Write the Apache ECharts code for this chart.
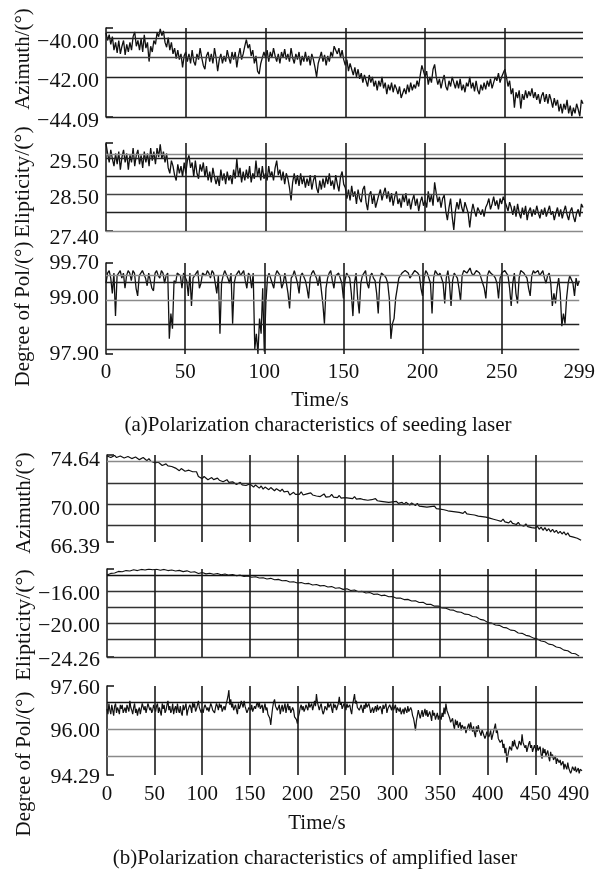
<!DOCTYPE html>
<html>
<head>
<meta charset="utf-8">
<script src="https://cdn.jsdelivr.net/npm/echarts@6.0.0/dist/echarts.min.js"></script>
<style>
  html, body { margin: 0; padding: 0; background: #fff; }
  #chart { width: 598px; height: 871px; }
</style>
</head>
<body>
<div id="chart"></div>
<script>
const FONT = '"Liberation Serif", "Times New Roman", serif';

// sample spacing in seconds
const stepSeed = 1;
const stepAmpAz = 2;
const stepAmpEll = 4;
const stepAmpDeg = 1;

// (a) seeding laser, one value per second, 0..299 s
const seedAzimuth = [
  -39.7, -40.1, -39.8, -40.3, -39.9, -40.6, -40.2, -40.75, -40.1, -40.8, -40.4, -40.1, -40.85, -40.3, -40.7, -40.2, -40.6, -39.9, -39.65, -40.4, -40.1, -40.6, -40.0, -40.7, -39.8,
  -40.5, -40.2, -41.2, -40.4, -40.7, -40.1, -40.3, -39.7, -39.9, -39.5, -39.85, -39.6, -40.2, -40.45, -39.95, -40.6, -40.2, -40.8, -40.5, -41.05, -40.6, -41.1, -40.8, -41.5, -40.9,
  -40.7, -41.2, -40.8, -41.3, -40.6, -41.2, -41.4, -40.8, -41.1, -40.5, -41.0, -41.4, -41.6, -40.9, -40.7, -41.2, -40.8, -41.3, -40.5, -41.0, -41.7, -41.1, -40.8, -41.3, -40.9,
  -41.2, -40.6, -41.0, -41.3, -40.7, -41.1, -40.7, -41.5, -40.9, -40.5, -41.1, -40.8, -40.4, -40.05, -40.5, -40.3, -40.9, -40.6, -41.3, -40.9, -41.7, -41.85, -41.3, -41.0, -40.7,
  -41.0, -40.6, -41.2, -40.7, -41.0, -40.5, -40.9, -41.2, -40.8, -41.3, -40.7, -41.0, -40.55, -41.1, -40.8, -41.2, -40.5, -41.0, -41.3, -40.8, -41.1, -40.7, -41.4, -40.9, -41.2,
  -40.7, -41.2, -40.9, -41.4, -40.8, -41.1, -41.5, -42.0, -41.3, -41.0, -40.7, -41.2, -40.85, -41.4, -40.9, -41.2, -40.7, -40.95, -40.4, -40.3, -40.8, -40.5, -41.0, -40.6, -41.1,
  -41.4, -41.1, -41.7, -41.3, -41.6, -41.9, -41.5, -42.0, -41.6, -42.1, -41.8, -42.3, -41.9, -42.2, -42.5, -41.9, -42.3, -42.0, -42.5, -42.2, -42.7, -42.2, -42.5, -42.0, -42.6,
  -42.3, -42.9, -42.4, -42.7, -42.3, -42.8, -42.4, -42.6, -42.9, -42.5, -43.1, -43.2, -42.6, -42.9, -42.4, -42.8, -42.3, -42.7, -42.4, -42.6, -42.2, -42.5, -41.9, -41.4, -41.7,
  -42.0, -41.7, -42.4, -42.0, -42.3, -41.6, -41.35, -42.0, -42.4, -42.1, -42.6, -42.2, -41.9, -42.5, -42.7, -42.2, -42.5, -42.0, -42.3, -42.6, -42.2, -42.6, -42.1, -42.7, -42.4,
  -42.8, -42.3, -42.5, -42.0, -42.6, -42.3, -42.75, -42.2, -42.7, -42.9, -42.4, -42.7, -42.3, -42.65, -42.2, -42.5, -42.1, -42.6, -42.3, -42.0, -42.2, -41.8, -42.3, -42.0, -41.9,
  -41.6, -42.0, -42.5, -42.2, -42.9, -42.6, -43.6, -42.8, -43.1, -42.7, -43.65, -42.9, -43.2, -42.7, -43.1, -42.75, -43.0, -42.6, -43.1, -42.8, -43.2, -42.9, -43.4, -43.0, -42.8,
  -43.3, -42.9, -43.4, -42.9, -43.2, -43.6, -43.1, -43.5, -43.2, -43.8, -43.4, -43.9, -43.4, -43.7, -43.2, -43.9, -43.5, -44.05, -43.6, -43.9, -43.4, -43.7, -44.05, -43.2, -43.4
];
const seedEllipticity = [
  29.82, 29.55, 29.3, 29.65, 29.4, 29.2, 29.55, 29.25, 29.6, 29.1, 29.45, 29.65, 29.3, 29.55, 29.1, 29.5, 29.3, 29.7, 29.2, 29.5, 29.65, 29.25, 29.5, 29.15, 29.6,
  29.3, 29.55, 29.2, 29.7, 29.35, 29.6, 29.25, 29.7, 29.45, 29.8, 29.4, 29.6, 29.3, 29.55, 29.15, 29.0, 29.35, 29.2, 28.95, 28.8, 29.25, 29.0, 29.2, 28.9, 29.3,
  29.0, 29.35, 29.5, 29.15, 29.3, 28.9, 29.35, 29.0, 28.85, 29.25, 29.05, 29.3, 28.9, 29.2, 28.8, 29.05, 28.75, 29.15, 28.9, 28.7, 28.9, 28.65, 29.1, 28.8, 29.0,
  28.7, 29.05, 28.8, 28.95, 28.7, 29.1, 28.85, 29.4, 28.9, 29.15, 28.75, 29.05, 28.8, 29.1, 28.85, 29.2, 28.75, 29.0, 28.85, 29.35, 28.9, 29.15, 28.8, 29.2, 28.85,
  29.0, 28.8, 29.2, 28.9, 29.05, 28.8, 29.15, 29.35, 28.95, 29.1, 28.8, 29.05, 28.7, 29.0, 28.85, 28.6, 28.25, 28.75, 29.0, 28.7, 28.95, 28.65, 29.0, 28.7, 28.9,
  28.6, 28.85, 28.65, 28.95, 28.55, 28.8, 28.95, 28.6, 28.45, 28.8, 28.55, 28.85, 28.6, 28.9, 28.7, 29.0, 28.65, 28.8, 28.55, 28.95, 28.7, 28.5, 28.9, 29.05, 28.7,
  28.6, 28.3, 28.55, 28.25, 28.65, 28.35, 28.5, 28.15, 28.55, 28.3, 28.2, 28.55, 28.65, 28.2, 27.98, 28.4, 28.5, 28.15, 28.4, 28.05, 28.0, 28.4, 28.55, 28.25, 28.45,
  28.6, 28.3, 28.5, 28.2, 28.45, 28.1, 28.35, 28.5, 28.15, 28.3, 28.05, 28.4, 28.2, 28.45, 28.1, 28.3, 28.0, 28.25, 28.4, 28.1, 28.3, 27.95, 28.2, 28.35, 28.1,
  28.25, 28.05, 28.5, 28.2, 28.4, 28.1, 28.75, 28.45, 28.2, 28.35, 28.05, 28.3, 28.4, 27.95, 27.7, 28.05, 28.3, 27.8, 27.43, 27.95, 28.2, 28.0, 28.3, 28.05, 27.9,
  28.2, 28.25, 27.9, 27.5, 27.9, 28.15, 27.95, 27.8, 28.05, 28.1, 27.85, 28.0, 27.8, 28.05, 28.15, 28.3, 28.0, 28.15, 28.35, 28.1, 28.25, 28.0, 28.3, 28.15, 28.35,
  28.4, 28.1, 27.95, 28.2, 28.05, 27.85, 28.1, 27.8, 28.15, 27.9, 27.75, 28.05, 27.85, 28.1, 27.7, 27.95, 28.05, 27.8, 28.0, 27.85, 28.1, 27.9, 27.75, 28.0, 27.85,
  28.05, 27.8, 27.95, 28.1, 27.85, 27.95, 27.7, 27.9, 28.05, 27.8, 28.0, 27.75, 27.95, 28.1, 27.85, 27.7, 27.95, 28.05, 27.8, 27.65, 27.9, 28.0, 27.8, 28.15, 28.05
];
const seedDegree = [
  99.3, 99.5, 99.55, 99.4, 99.1, 99.5, 98.65, 99.45, 99.5, 99.55, 99.4, 99.5, 99.2, 99.45, 99.55, 99.5, 99.35, 99.55, 99.5, 99.2, 99.05, 99.45, 99.45, 99.55, 99.55,
  99.4, 99.25, 99.5, 99.5, 99.2, 99.15, 99.5, 99.55, 99.45, 99.4, 99.55, 99.5, 99.3, 99.45, 99.5, 98.2, 98.7, 98.4, 99.35, 99.3, 99.5, 99.5, 99.45, 99.2, 99.5,
  99.5, 99.35, 99.05, 99.5, 98.85, 99.4, 99.45, 99.5, 99.55, 99.2, 99.3, 99.5, 99.5, 99.45, 99.55, 99.5, 99.4, 99.55, 99.5, 99.3, 99.1, 99.45, 98.3, 99.3, 99.45,
  99.55, 99.55, 99.4, 99.3, 99.5, 98.5, 99.3, 99.45, 99.5, 99.55, 99.45, 99.5, 99.55, 99.35, 99.2, 99.5, 99.45, 99.2, 99.5, 98.0, 98.3, 97.9, 98.6, 98.3, 99.2,
  97.95, 98.9, 99.4, 99.5, 99.5, 99.3, 99.2, 99.45, 99.55, 99.5, 99.45, 99.2, 99.3, 99.5, 99.5, 99.1, 98.8, 99.4, 99.45, 99.55, 99.55, 99.3, 99.1, 99.45, 99.5,
  99.5, 99.35, 99.2, 99.0, 99.4, 99.5, 99.55, 99.55, 99.4, 99.25, 99.45, 99.45, 98.9, 98.5, 99.2, 99.4, 99.5, 99.55, 99.35, 99.2, 99.45, 99.45, 99.5, 99.5, 99.3,
  99.0, 99.35, 99.5, 99.45, 99.4, 99.1, 98.65, 99.3, 99.5, 99.0, 98.7, 99.3, 99.45, 99.5, 99.55, 99.3, 99.2, 99.45, 99.5, 99.4, 99.35, 99.1, 98.7, 99.35, 99.5,
  99.5, 99.45, 99.4, 99.3, 99.0, 98.2, 98.5, 98.6, 99.0, 99.2, 99.4, 99.45, 99.5, 99.5, 99.55, 99.55, 99.5, 99.4, 99.45, 99.5, 99.55, 99.55, 99.5, 99.45, 99.2,
  99.05, 99.4, 99.55, 99.5, 99.5, 99.3, 98.7, 99.4, 99.55, 99.5, 99.45, 99.5, 99.5, 99.3, 98.9, 99.4, 99.55, 99.3, 98.85, 99.35, 99.5, 99.45, 99.4, 99.2, 98.95,
  99.45, 99.55, 99.55, 99.5, 99.55, 99.6, 99.5, 99.45, 99.5, 99.55, 99.55, 99.5, 99.4, 99.3, 99.2, 99.0, 99.45, 99.55, 99.5, 99.5, 99.45, 99.4, 99.3, 99.0, 99.4,
  99.5, 99.5, 99.55, 99.5, 99.45, 99.2, 98.85, 99.3, 99.5, 99.1, 98.9, 99.4, 99.55, 99.55, 99.5, 99.45, 99.4, 99.2, 99.05, 99.45, 99.55, 99.5, 99.5, 99.55, 99.45,
  99.5, 99.55, 99.4, 99.3, 99.45, 99.5, 99.3, 98.85, 99.1, 98.9, 99.2, 99.4, 99.1, 98.45, 98.7, 98.5, 99.0, 99.3, 99.45, 99.45, 99.3, 99.05, 99.4, 99.25, 99.35
];

// (b) amplified laser
const ampAzimuth = [ // every 2 s, 0..498 s
  74.55, 74.65, 74.4, 74.55, 74.6, 74.4, 74.35, 74.55, 74.45, 74.35, 74.25, 74.5, 74.4, 74.3, 74.2, 74.45, 74.35, 74.2, 74.3, 74.4, 74.25, 74.1, 74.3, 74.05, 74.1,
  73.9, 73.75, 73.95, 73.85, 73.65, 73.5, 73.8, 73.6, 73.45, 73.55, 73.65, 73.4, 73.25, 73.15, 73.35, 73.4, 73.1, 73.0, 73.2, 73.35, 73.05, 72.9, 73.05, 72.6, 72.5,
  72.4, 72.6, 72.5, 72.3, 72.45, 72.5, 72.3, 72.2, 72.45, 72.25, 72.35, 72.1, 72.2, 72.3, 72.05, 71.9, 72.1, 72.15, 71.85, 71.95, 72.05, 71.8, 71.95, 71.75, 71.7,
  71.9, 71.75, 71.6, 71.8, 71.65, 71.5, 71.7, 71.4, 71.6, 71.45, 71.35, 71.55, 71.4, 71.25, 71.45, 71.3, 71.2, 71.4, 71.15, 71.05, 71.2, 70.85, 71.0, 71.1, 70.9,
  71.05, 70.9, 71.15, 70.85, 71.0, 70.95, 70.8, 71.05, 70.85, 70.95, 70.75, 70.9, 70.7, 70.85, 70.95, 70.65, 70.8, 70.7, 70.9, 70.65, 70.75, 70.6, 70.8, 70.55, 70.7,
  70.6, 70.75, 70.55, 70.65, 70.5, 70.7, 70.45, 70.6, 70.5, 70.65, 70.4, 70.55, 70.35, 70.5, 70.4, 70.3, 70.5, 70.3, 70.4, 70.25, 70.4, 70.2, 70.3, 70.15, 70.3,
  70.2, 70.1, 70.25, 70.05, 70.2, 70.15, 69.95, 70.15, 70.0, 69.9, 70.1, 69.95, 69.85, 70.05, 69.8, 69.95, 69.75, 69.9, 69.7, 69.85, 69.75, 69.6, 69.8, 69.55, 69.7,
  69.5, 69.65, 69.45, 69.6, 69.35, 69.5, 69.3, 69.45, 69.25, 69.4, 69.2, 69.35, 69.1, 69.3, 69.05, 69.2, 69.0, 69.15, 68.95, 69.1, 68.85, 69.0, 68.8, 68.95, 68.75,
  68.9, 68.65, 68.8, 68.55, 68.7, 68.45, 68.6, 68.35, 68.55, 68.3, 68.45, 68.2, 68.4, 68.15, 68.3, 68.05, 68.25, 68.0, 68.15, 67.9, 68.1, 67.85, 68.0, 67.75, 67.9,
  67.7, 67.9, 67.6, 67.8, 67.5, 67.75, 67.45, 67.65, 67.35, 67.6, 67.3, 67.5, 67.2, 67.4, 67.15, 67.35, 67.05, 67.25, 66.95, 67.1, 66.85, 67.0, 66.75, 66.85, 66.55
];
const ampEllipticity = [ // every 4 s, 0..496 s
  -14.0, -13.8, -13.75, -13.55, -13.6, -13.45, -13.5, -13.35, -13.45, -13.3, -13.38, -13.27, -13.35, -13.28, -13.4, -13.3, -13.45, -13.38, -13.5, -13.42, -13.58, -13.48, -13.66, -13.6, -13.82,
  -13.7, -13.86, -13.78, -13.9, -13.82, -13.98, -13.88, -14.02, -13.95, -14.1, -14.02, -14.18, -14.12, -14.28, -14.22, -14.38, -14.35, -14.5, -14.42, -14.6, -14.55, -14.72, -14.68, -14.88, -14.85,
  -15.0, -14.95, -15.1, -15.05, -15.25, -15.18, -15.36, -15.32, -15.5, -15.45, -15.65, -15.6, -15.8, -15.72, -15.95, -15.88, -16.1, -16.05, -16.26, -16.2, -16.42, -16.38, -16.58, -16.52, -16.72,
  -16.7, -16.9, -16.88, -17.08, -17.05, -17.26, -17.22, -17.45, -17.42, -17.68, -17.66, -17.9, -17.88, -18.12, -18.15, -18.36, -18.4, -18.62, -18.66, -18.9, -18.95, -19.2, -19.25, -19.55, -19.65,
  -19.95, -20.0, -20.25, -20.3, -20.55, -20.62, -20.9, -20.95, -21.25, -21.3, -21.55, -21.65, -21.9, -22.0, -22.25, -22.35, -22.65, -22.72, -23.0, -23.1, -23.4, -23.48, -23.8, -23.85, -24.15
];
const ampDegree = [ // every 1 s, 0..499 s
  96.75, 96.55, 96.95, 96.7, 96.55, 96.9, 96.7, 96.5, 96.85, 96.95, 96.6, 96.8, 96.7, 96.55, 96.9, 96.75, 96.9, 96.6, 96.55, 96.8, 96.6, 96.9, 96.85, 96.65, 97.05,
  96.8, 96.7, 96.55, 96.8, 96.95, 96.6, 96.75, 96.5, 96.7, 96.8, 96.55, 96.75, 96.95, 96.95, 96.7, 96.85, 96.6, 96.65, 96.95, 96.95, 96.7, 96.8, 96.6, 96.7, 96.9,
  96.9, 96.65, 96.85, 96.95, 96.6, 96.8, 96.65, 96.5, 96.95, 96.75, 96.9, 96.6, 96.7, 96.9, 97.05, 96.7, 96.85, 96.6, 96.7, 96.95, 96.55, 96.75, 96.85, 96.6, 96.95,
  96.7, 96.6, 96.85, 96.6, 96.5, 96.9, 96.7, 96.75, 96.95, 96.5, 96.7, 96.65, 96.9, 96.8, 96.6, 97.0, 96.8, 96.95, 96.65, 96.75, 96.9, 97.05, 96.8, 96.85, 96.6,
  96.75, 96.6, 96.8, 96.9, 96.85, 96.7, 96.8, 96.65, 96.8, 96.95, 96.85, 96.7, 96.75, 96.6, 96.8, 96.95, 96.85, 96.7, 96.95, 96.8, 96.9, 96.65, 96.7, 96.85, 96.7,
  96.9, 96.95, 97.2, 97.45, 96.9, 97.1, 96.8, 96.95, 96.7, 96.75, 96.9, 96.7, 96.55, 96.95, 96.75, 96.85, 97.05, 97.0, 96.8, 97.05, 96.85, 96.8, 96.6, 96.65, 96.8,
  96.85, 96.7, 96.9, 96.65, 96.6, 96.85, 96.75, 96.9, 97.0, 96.8, 97.0, 96.75, 96.75, 96.9, 96.6, 96.8, 96.95, 96.7, 96.8, 96.55, 96.6, 96.4, 96.15, 96.5, 96.8,
  97.0, 97.1, 96.85, 96.9, 96.7, 96.75, 96.9, 96.55, 96.75, 96.9, 96.65, 96.8, 96.95, 96.6, 96.8, 96.95, 96.7, 96.85, 96.6, 96.65, 96.8, 96.7, 96.45, 96.5, 96.35,
  96.2, 96.45, 96.6, 96.8, 96.9, 96.7, 96.85, 96.65, 96.75, 96.9, 96.95, 96.7, 97.0, 96.8, 96.8, 96.95, 96.7, 96.85, 97.05, 96.85, 97.3, 97.0, 96.95, 96.7, 96.85,
  96.95, 96.7, 96.55, 96.65, 96.85, 96.9, 96.7, 97.0, 96.8, 96.85, 96.95, 96.75, 96.6, 96.95, 96.8, 96.9, 96.7, 96.7, 96.95, 97.2, 96.9, 97.0, 96.75, 96.8, 96.95,
  96.85, 96.7, 96.95, 96.8, 96.75, 96.9, 96.7, 96.55, 96.9, 97.1, 97.3, 96.95, 97.05, 96.8, 96.85, 96.7, 96.7, 96.9, 96.75, 96.6, 96.9, 96.75, 97.0, 96.8, 96.8,
  96.95, 96.8, 96.6, 96.65, 96.8, 96.6, 96.75, 96.85, 96.65, 96.9, 96.7, 96.7, 96.85, 96.75, 96.55, 96.9, 96.75, 96.85, 96.95, 96.6, 96.75, 96.7, 96.9, 96.85, 96.7,
  96.9, 96.7, 96.75, 96.9, 96.6, 96.8, 96.85, 96.65, 96.8, 96.55, 96.6, 96.75, 96.55, 96.8, 96.8, 96.6, 96.85, 96.65, 96.65, 96.8, 96.7, 96.5, 96.4, 96.2, 95.95,
  96.3, 96.5, 96.7, 96.65, 96.4, 96.55, 96.7, 96.45, 96.6, 96.75, 96.5, 96.7, 96.45, 96.5, 96.65, 96.5, 96.3, 96.7, 96.5, 96.6, 96.35, 96.4, 96.6, 96.35, 96.5,
  96.55, 96.35, 96.6, 96.45, 96.8, 96.55, 96.95, 96.7, 96.7, 96.5, 96.4, 96.25, 96.2, 96.4, 96.15, 96.0, 96.35, 96.15, 96.3, 96.05, 96.05, 96.25, 95.95, 96.15, 96.2,
  96.0, 96.1, 95.85, 95.9, 96.1, 96.2, 95.95, 96.25, 96.05, 95.9, 96.1, 95.85, 95.7, 96.1, 95.9, 96.15, 95.95, 95.95, 95.75, 96.0, 95.85, 95.8, 95.65, 95.75, 95.9,
  95.95, 95.7, 95.8, 95.95, 95.6, 95.75, 95.9, 96.05, 96.2, 95.85, 95.95, 95.65, 95.7, 95.5, 95.45, 95.6, 95.3, 95.45, 95.1, 95.3, 94.75, 95.0, 95.2, 95.35, 95.4,
  95.2, 95.55, 95.35, 95.6, 95.4, 95.45, 95.25, 95.35, 95.55, 95.6, 95.4, 95.8, 95.5, 95.55, 95.3, 95.4, 95.15, 95.3, 95.45, 95.55, 95.3, 95.4, 95.15, 95.2, 95.4,
  95.35, 95.15, 95.4, 95.2, 95.2, 95.35, 95.05, 94.9, 95.3, 95.1, 95.25, 95.0, 95.05, 95.2, 94.95, 94.8, 95.15, 94.95, 95.05, 94.85, 94.85, 95.0, 94.7, 94.9, 94.95,
  94.75, 94.85, 94.65, 94.6, 94.8, 94.5, 94.7, 94.7, 94.5, 94.75, 94.55, 94.5, 94.35, 94.45, 94.6, 94.65, 94.45, 94.6, 94.4, 94.4, 94.55, 94.35, 94.5, 94.5, 94.45
];

// tick labels
const seedTimeLabels = [0, 50, 100, 150, 200, 250, 299];
const ampTimeLabels = [0, 50, 100, 150, 200, 250, 300, 350, 400, 450, 490];
const seedAzLabels = [-40.00, -42.00, -44.09];
const seedEllLabels = [29.50, 28.50, 27.40];
const seedDegLabels = [99.70, 99.00, 97.90];
const ampAzLabels = [74.64, 70.00, 66.39];
const ampEllLabels = [-16.00, -20.00, -24.26];
const ampDegLabels = [97.60, 96.00, 94.29];

// grid line values
const seedTimeGrid = [50, 100, 150, 200, 250];
const ampTimeGrid = [50, 100, 150, 200, 250, 300, 350, 400, 450];
const seedAzGrid = [-39.66, -40.0, -41.0, -42.0, -44.09];
const seedEllGrid = [29.53, 29.42, 28.92, 28.42, 27.92, 27.40];
const seedDegGrid = [99.46, 99.32, 98.96, 98.49, 97.99];
const ampAzGrid = [74.0, 72.0, 70.0, 68.0];
const ampEllGrid = [-14.0, -16.0, -18.0, -20.0, -22.0, -24.26];
const ampDegGrid = [97.0, 96.0, 95.0];

const DARK = '#222';
const GRAY = '#8a8a8a';

const panels = [
  { top: 28, height: 89, left: 106, xMax: 299, yMin: -44.09, yMax: -39.45, labelShift: 4,
    values: seedAzimuth, step: stepSeed, lw: 1.3, yLabels: seedAzLabels, hGrid: seedAzGrid,
    hColors: [DARK, DARK, '#444', DARK, DARK], vGrid: seedTimeGrid, xLabels: null },
  { top: 143, height: 88, left: 106, xMax: 299, yMin: 27.40, yMax: 29.84, labelShift: 7,
    values: seedEllipticity, step: stepSeed, lw: 1.3, yLabels: seedEllLabels, hGrid: seedEllGrid,
    hColors: [GRAY, DARK, DARK, '#444', DARK, GRAY], vGrid: seedTimeGrid, xLabels: null },
  { top: 263, height: 91, left: 106, xMax: 299, yMin: 97.90, yMax: 99.70, labelShift: 0,
    values: seedDegree, step: stepSeed, lw: 1.3, yLabels: seedDegLabels, hGrid: seedDegGrid,
    hColors: [GRAY, DARK, GRAY, DARK, '#333'], vGrid: seedTimeGrid, xLabels: seedTimeLabels, xMargin: 8 },
  { top: 455, height: 87, left: 107, xMax: 500, yMin: 66.39, yMax: 74.64, labelShift: 5,
    values: ampAzimuth, step: stepAmpAz, lw: 1.2, yLabels: ampAzLabels, hGrid: ampAzGrid,
    hColors: [GRAY, '#333', '#333', '#333'], vGrid: ampTimeGrid, xLabels: null },
  { top: 569, height: 88, left: 107, xMax: 500, yMin: -24.26, yMax: -13.25, labelShift: 3,
    values: ampEllipticity, step: stepAmpEll, lw: 1.1, yLabels: ampEllLabels, hGrid: ampEllGrid,
    hColors: ['#111', '#333', '#333', '#333', '#333', '#333'], vGrid: ampTimeGrid, xLabels: null },
  { top: 686, height: 89, left: 107, xMax: 500, yMin: 94.29, yMax: 97.60, labelShift: 2,
    values: ampDegree, step: stepAmpDeg, lw: 1.2, yLabels: ampDegLabels, hGrid: ampDegGrid,
    hColors: ['#111', GRAY, GRAY], vGrid: ampTimeGrid, xLabels: ampTimeLabels, xMargin: 9 }
];

function fmt(v) {
  return (v < 0 ? '\u2212' : '') + Math.abs(v).toFixed(2);
}

const chart = echarts.init(document.getElementById('chart'), null, { renderer: 'canvas' });

const option = {
  animation: false,
  backgroundColor: '#fff',
  grid: panels.map(p => ({ left: p.left, right: 15, top: p.top, height: p.height, containLabel: false })),
  xAxis: panels.map((p, i) => ({
    type: 'value', gridIndex: i, min: 0, max: p.xMax,
    axisLine: { show: false }, axisTick: { show: false }, splitLine: { show: false },
    axisLabel: p.xLabels ? {
      show: true, customValues: p.xLabels, margin: p.xMargin,
      color: '#111', fontFamily: FONT, fontSize: 21, formatter: v => String(v)
    } : { show: false }
  })),
  yAxis: panels.map((p, i) => ({
    type: 'value', gridIndex: i, min: p.yMin, max: p.yMax,
    axisLine: { show: true, lineStyle: { color: '#111', width: 1.5 } },
    axisTick: { show: true, inside: true, length: 7, customValues: [p.yMin, p.yMax],
      lineStyle: { color: '#111', width: 1.5 } },
    splitLine: { show: false },
    axisLabel: Object.assign({
      show: true, customValues: p.yLabels, margin: 7,
      color: '#111', fontFamily: FONT, fontSize: 22, formatter: v => fmt(v)
    }, p.labelShift > 0 ? { verticalAlign: 'top', lineHeight: p.labelShift * 2 } : {})
  })),
  series: panels.map((p, i) => ({
    type: 'line', xAxisIndex: i, yAxisIndex: i,
    data: p.values.map((v, k) => [k * p.step, v]),
    symbol: 'none', silent: true, clip: true,
    lineStyle: { color: '#111', width: p.lw },
    markLine: {
      silent: true, symbol: ['none', 'none'], label: { show: false },
      lineStyle: { type: 'solid' }, emphasis: { disabled: true },
      data: [
        ...p.hGrid.map((v, k) => ({ yAxis: v, lineStyle: { color: p.hColors[k], width: 1.3, type: 'solid' } })),
        ...p.vGrid.map(v => ({ xAxis: v, lineStyle: { color: '#1a1a1a', width: 1.6, type: 'solid' } }))
      ]
    }
  })),
  graphic: [
    { type: 'text', x: 23, y: 59, rotation: Math.PI / 2,
      style: { text: 'Azimuth/(°)', fontFamily: FONT, fontSize: 21, fill: '#111', align: 'center', verticalAlign: 'middle' } },
    { type: 'text', x: 23, y: 182, rotation: Math.PI / 2,
      style: { text: 'Elipticity/(°)', fontFamily: FONT, fontSize: 22, fill: '#111', align: 'center', verticalAlign: 'middle' } },
    { type: 'text', x: 23, y: 314, rotation: Math.PI / 2,
      style: { text: 'Degree of Pol/(°)', fontFamily: FONT, fontSize: 21, fill: '#111', align: 'center', verticalAlign: 'middle' } },
    { type: 'text', x: 320, y: 400,
      style: { text: 'Time/s', fontFamily: FONT, fontSize: 21, fill: '#111', align: 'center', verticalAlign: 'middle' } },
    { type: 'text', x: 318, y: 425,
      style: { text: '(a)Polarization characteristics of seeding laser', fontFamily: FONT, fontSize: 21, fill: '#111', align: 'center', verticalAlign: 'middle' } },
    { type: 'text', x: 24, y: 503, rotation: Math.PI / 2,
      style: { text: 'Azimuth/(°)', fontFamily: FONT, fontSize: 21, fill: '#111', align: 'center', verticalAlign: 'middle' } },
    { type: 'text', x: 24, y: 625, rotation: Math.PI / 2,
      style: { text: 'Elipticity/(°)', fontFamily: FONT, fontSize: 22, fill: '#111', align: 'center', verticalAlign: 'middle' } },
    { type: 'text', x: 24, y: 764, rotation: Math.PI / 2,
      style: { text: 'Degree of Pol/(°)', fontFamily: FONT, fontSize: 21, fill: '#111', align: 'center', verticalAlign: 'middle' } },
    { type: 'text', x: 317, y: 823,
      style: { text: 'Time/s', fontFamily: FONT, fontSize: 21, fill: '#111', align: 'center', verticalAlign: 'middle' } },
    { type: 'text', x: 315, y: 858,
      style: { text: '(b)Polarization characteristics of amplified laser', fontFamily: FONT, fontSize: 21, fill: '#111', align: 'center', verticalAlign: 'middle' } }
  ]
};

chart.setOption(option);
</script>
</body>
</html>
